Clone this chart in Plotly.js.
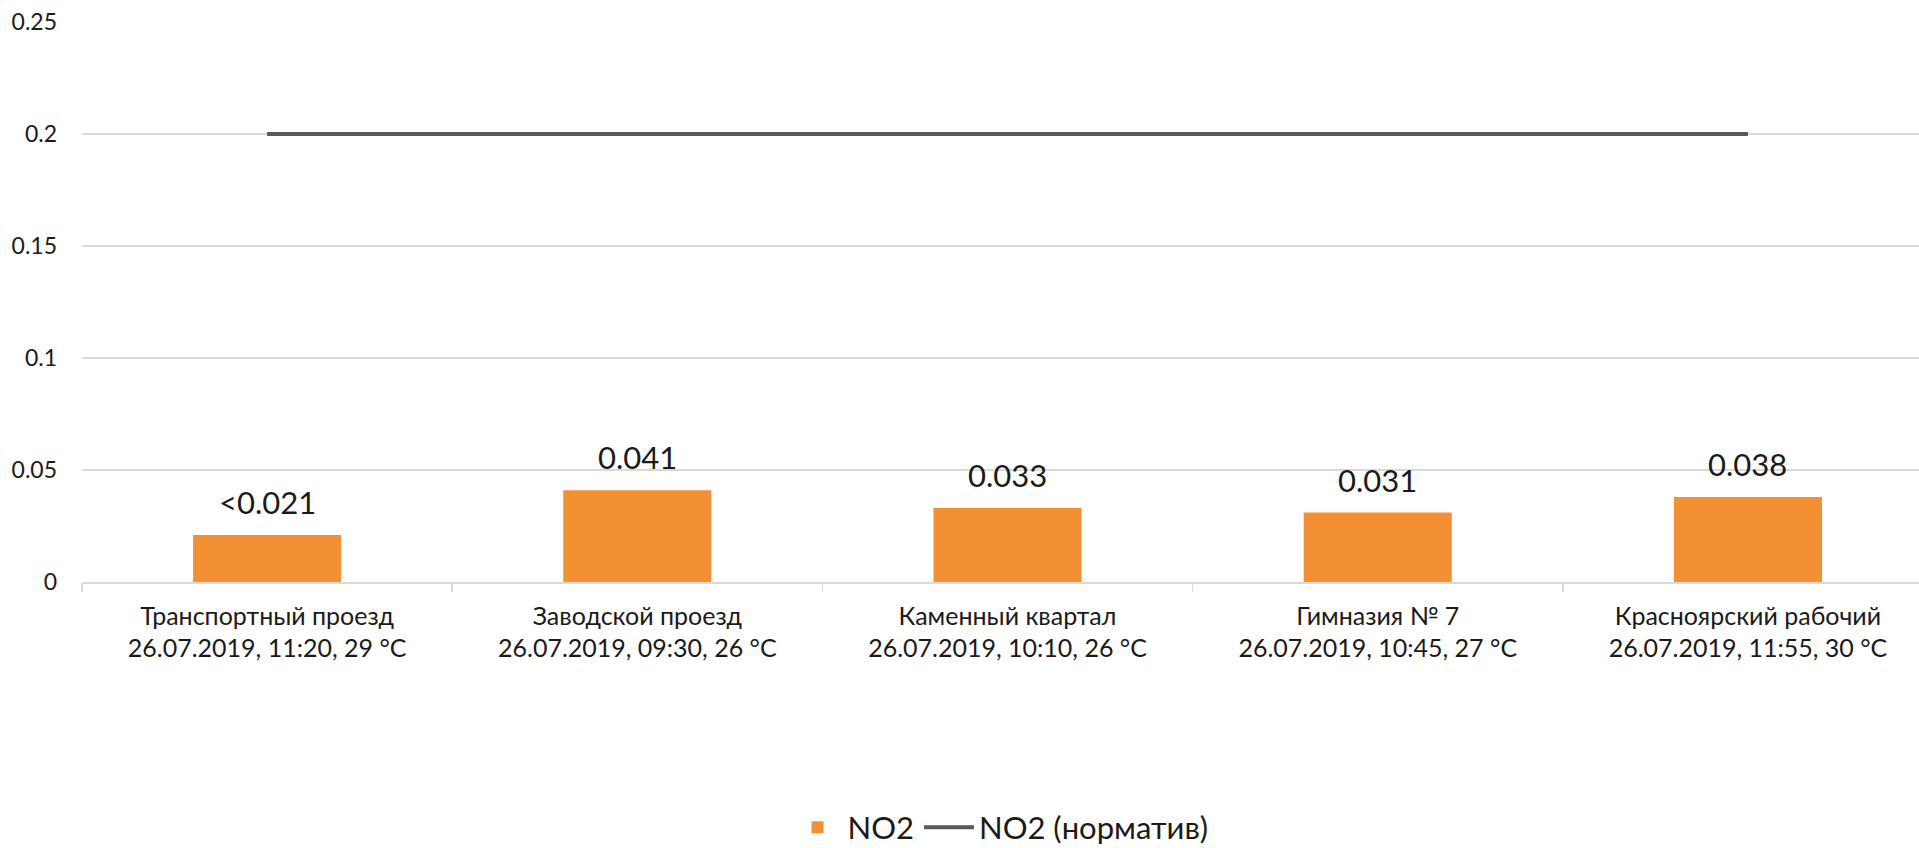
<!DOCTYPE html>
<html>
<head>
<meta charset="utf-8">
<script src="https://cdn.plot.ly/plotly-3.0.1.min.js"></script>
<style>html,body{margin:0;padding:0;background:#fff;}#chart{width:1919px;height:848px;}</style>
</head>
<body>
<div id="chart"></div>
<script>
const categories = [
  "Транспортный проезд<br>26.07.2019, 11:20, 29 °C",
  "Заводской проезд<br>26.07.2019, 09:30, 26 °C",
  "Каменный квартал<br>26.07.2019, 10:10, 26 °C",
  "Гимназия № 7<br>26.07.2019, 10:45, 27 °C",
  "Красноярский рабочий<br>26.07.2019, 11:55, 30 °C"
];
const no2Values = [0.021, 0.041, 0.033, 0.031, 0.038];
const no2Labels = ["<0.021", "0.041", "0.033", "0.031", "0.038"];
const normValues = [0.2, 0.2, 0.2, 0.2, 0.2];
const yTickVals = [0, 0.05, 0.1, 0.15, 0.2, 0.25];
const yTickText = ["0", "0.05", "0.1", "0.15", "0.2", "0.25"];

const FONT = "Lato, 'Open Sans', sans-serif";

const traces = [
  {
    type: "bar",
    name: "NO2",
    x: categories,
    y: no2Values,
    marker: {color: "#F39033"},
    hoverinfo: "x+y"
  },
  {
    type: "scatter",
    mode: "lines",
    name: "NO2 (норматив)",
    x: categories,
    y: normValues,
    line: {color: "#595959", width: 4}
  }
];

const annotations = categories.map((c, i) => ({
  x: c, y: no2Values[i], xref: "x", yref: "y",
  text: no2Labels[i], showarrow: false,
  yanchor: "bottom", yshift: 12,
  font: {family: FONT, size: 31, color: "#1a1a1a"}
}));

const layout = {
  width: 1919, height: 848,
  margin: {l: 82, r: 0, t: 22, b: 266},
  paper_bgcolor: "#fff", plot_bgcolor: "#fff",
  bargap: 0.6,
  font: {family: FONT, color: "#1a1a1a"},
  xaxis: {
    type: "category",
    range: [-0.5, 4.462],
    tickson: "boundaries",
    ticks: "outside", ticklen: 8, tickcolor: "#d9d9d9", tickwidth: 1.5,
    showline: true, linecolor: "#d9d9d9", linewidth: 1.5,
    showgrid: false,
    tickfont: {family: FONT, size: 25, color: "#1a1a1a"},
    ticklabelstandoff: 11
  },
  yaxis: {
    range: [0, 0.25],
    tickvals: yTickVals, ticktext: yTickText,
    showgrid: true, gridcolor: "#d9d9d9", gridwidth: 1.5,
    zeroline: false, showline: false, ticks: "",
    tickfont: {family: FONT, size: 23, color: "#1a1a1a"},
    ticklabelstandoff: 24
  },
  legend: {
    orientation: "h", x: 0.5, xanchor: "center",
    yref: "container", y: 0.024, yanchor: "middle",
    font: {family: FONT, size: 31, color: "#1a1a1a"},
    itemwidth: 50
  },
  annotations: annotations,
  showlegend: true
};

Plotly.newPlot("chart", traces, layout, {displayModeBar: false, staticPlot: true});
</script>
</body>
</html>
